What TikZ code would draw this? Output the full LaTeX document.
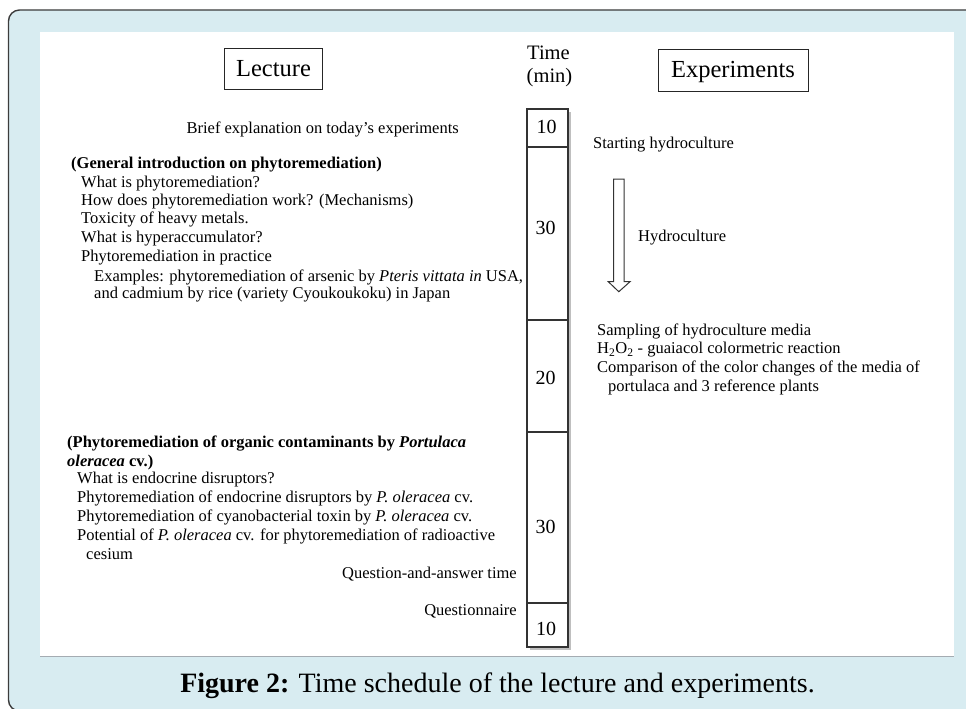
\documentclass[tikz,border=0pt]{standalone}
\usepackage{fontspec}
\setmainfont{Liberation Serif}
\definecolor{bgblue}{RGB}{216,236,241}
\definecolor{framegray}{RGB}{60,60,60}
\definecolor{rulegray}{RGB}{165,172,178}
\tikzset{
  body/.style={font=\fontsize{16.5}{18}\selectfont, inner sep=0pt, anchor=base west},
  bodyr/.style={font=\fontsize{16.5}{18}\selectfont, inner sep=0pt, anchor=base east},
  hdrbox/.style={draw=black!85, line width=0.9pt, inner sep=0pt},
  hdrlabel/.style={font=\fontsize{24.5}{26}\selectfont, inner sep=0pt, anchor=base},
  hdrtext/.style={font=\fontsize{20.5}{22}\selectfont, inner sep=0pt},
  tbox/.style={draw=black!80, line width=1.2pt, fill=white, minimum width=41pt, inner sep=0pt},
  num/.style={font=\fontsize{20}{21}\selectfont, inner sep=0pt},
}
\begin{document}
\begin{tikzpicture}[x=1pt,y=-1pt]
\useasboundingbox (0,0) rectangle (966,709);
\clip (0,0) rectangle (966,709);
% frame
\draw[fill=bgblue, draw=framegray, line width=1.4pt, rounded corners=11pt] (8.5,10) rectangle (1000,711);
\fill[white] (40,32) rectangle (954,655.5);
\draw[rulegray, line width=1.6pt] (40,656.3) -- (954,656.3);

% headers
\node[hdrbox, minimum width=98pt, minimum height=41pt] (lec) at (273.5,68.5) {};
\node[hdrlabel] (lect) at (273.5,76.5) {Lecture};
\node[hdrbox, minimum width=150pt, minimum height=42pt] (exp) at (733,70) {};
\node[hdrlabel] (expt) at (733,77.5) {Experiments};
\node[hdrtext] (time) at (548.5,53) {Time};
\node[hdrtext] (min) at (549.5,78) {(min)};

% time column
\fill[black!25] (530,112) rectangle (570.5,649.5);
\node[tbox, minimum height=38pt] (t1) at (547.5,128) {};
\node[tbox, minimum height=173pt] (t2) at (547.5,233.5) {};
\node[tbox, minimum height=112pt] (t3) at (547.5,376) {};
\node[tbox, minimum height=171pt] (t4) at (547.5,517.5) {};
\node[tbox, minimum height=44pt] (t5) at (547.5,625) {};
\node[num] (n1) at (546.5,127) {10};
\node[num] (n2) at (545.5,228) {30};
\node[num] (n3) at (545.5,378) {20};
\node[num] (n4) at (545.5,527) {30};
\node[num] (n5) at (546,629) {10};

% lecture side
\node[bodyr] (l0) at (459,133) {Brief explanation on today's experiments};
\node[body] (l1) at (71,168) {\textbf{(General introduction on phytoremediation)}};
\node[body] (l2) at (81,187) {What is phytoremediation?};
\node[body] (l3) at (81,205) {How does phytoremediation work? (Mechanisms)};
\node[body] (l4) at (81,223.5) {Toxicity of heavy metals.};
\node[body] (l5) at (81,242) {What is hyperaccumulator?};
\node[body] (l6) at (81,261) {Phytoremediation in practice};
\node[body] (l7) at (94,281) {Examples: phytoremediation of arsenic by \textit{Pteris vittata in} USA,};
\node[body] (l8) at (94,298.5) {and cadmium by rice (variety Cyoukoukoku) in Japan};

\node[body] (m1) at (67,447) {\textbf{(Phytoremediation of organic contaminants by \textit{Portulaca}}};
\node[body] (m2) at (67,466.5) {\textbf{\textit{oleracea} cv.)}};
\node[body] (m3) at (77,483.5) {What is endocrine disruptors?};
\node[body] (m4) at (77,502) {Phytoremediation of endocrine disruptors by \textit{P. oleracea} cv.};
\node[body] (m5) at (77,521) {Phytoremediation of cyanobacterial toxin by \textit{P. oleracea} cv.};
\node[body] (m6) at (77,540) {Potential of \textit{P. oleracea} cv. for phytoremediation of radioactive};
\node[body] (m7) at (86,559) {cesium};
\node[bodyr] (m8) at (517,578) {Question-and-answer time};
\node[bodyr] (m9) at (517,615) {Questionnaire};

% experiments side
\node[body] (e1) at (593,148) {Starting hydroculture};
\node[body] (e2) at (638,241) {Hydroculture};
\node[body] (e3) at (597,335) {Sampling of hydroculture media};
\node[body] (e4) at (597,353.5) {H\textsubscript{2}O\textsubscript{2} - guaiacol colormetric reaction};
\node[body] (e5) at (597,372) {Comparison of the color changes of the media of};
\node[body] (e6) at (608,391) {portulaca and 3 reference plants};

% hollow arrow
\draw[black!80, line width=1pt, fill=white, line join=miter]
  (613.7,179) -- (624,179) -- (624,281.7) -- (630,281.7) -- (618.8,291.7)
  -- (608.3,281.7) -- (613.7,281.7) -- cycle;

% caption
\node[font=\fontsize{28}{30}\selectfont, inner sep=0pt, anchor=base] (cap) at (497.5,692)
  {\textbf{Figure 2:} Time schedule of the lecture and experiments.};
\end{tikzpicture}
\end{document}
